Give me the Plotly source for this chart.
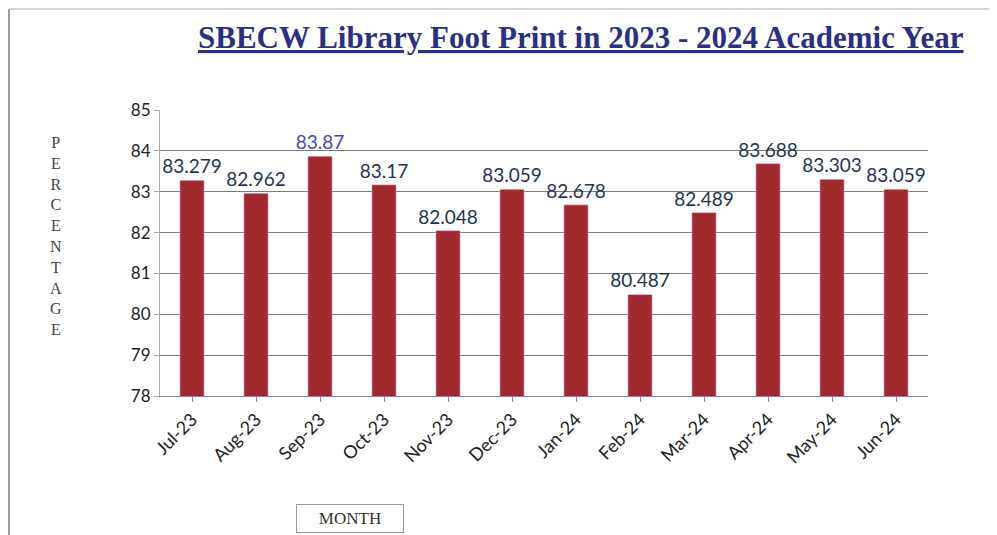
"""SBECW library footprint, 2023-2024 academic year."""

import plotly.graph_objects as go

MONTHS = ["Jul-23", "Aug-23", "Sep-23", "Oct-23", "Nov-23", "Dec-23",
          "Jan-24", "Feb-24", "Mar-24", "Apr-24", "May-24", "Jun-24"]
PERCENT = [83.279, 82.962, 83.87, 83.17, 82.048, 83.059,
           82.678, 80.487, 82.489, 83.688, 83.303, 83.059]
LABELS = ["83.279", "82.962", "83.87", "83.17", "82.048", "83.059",
          "82.678", "80.487", "82.489", "83.688", "83.303", "83.059"]
Y_TICKS = [78, 79, 80, 81, 82, 83, 84, 85]

BAR_COLOR = "#a02a2e"
LABEL_COLOR = "#1f3550"
TITLE_COLOR = "#2b2f85"

label_colors = [("#4b45c4" if m == "Sep-23" else LABEL_COLOR) for m in MONTHS]

fig = go.Figure(go.Bar(
    x=MONTHS, y=PERCENT, text=LABELS, textposition="outside",
    constraintext="none",
    textfont=dict(family="Lato, Open Sans, sans-serif", size=19, color=label_colors),
    marker_color=BAR_COLOR, cliponaxis=False, width=0.38,
))

# page body has an 8px margin, so work in page pixels minus 8
OFF = 8
FW, FH = 997 - OFF, 535 - OFF
# plot area in page pixels: x 160..928, y 110..396
L, R, T, B = 160 - OFF, 928 - OFF, 110 - OFF, 396 - OFF
W, H = R - L, B - T


def px(x):
    return (x - OFF - L) / W


def py(y):
    return 1 - (y - OFF - T) / H


fig.update_layout(
    width=FW, height=FH,
    margin=dict(l=L, r=FW - R, t=T, b=FH - B),
    paper_bgcolor="white", plot_bgcolor="white",
    showlegend=False,
    font=dict(family="Lato, Open Sans, sans-serif", size=17, color="#222"),
    xaxis=dict(
        type="category", tickangle=-45, showgrid=False,
        showline=True, linecolor="#888", linewidth=1,
        ticks="outside", ticklen=5, tickcolor="#888",
        tickfont=dict(size=18, color="#222"),
    ),
    yaxis=dict(
        range=[78, 85], tickvals=Y_TICKS, showgrid=True,
        gridcolor="#7a7a7a", gridwidth=1,
        showline=True, linecolor="#aaa", linewidth=1,
        ticks="outside", ticklen=5, tickcolor="#aaa",
        tickfont=dict(size=17, color="#222"), zeroline=False,
    ),
)

# title
fig.add_annotation(
    text="<b><u>SBECW Library Foot Print in 2023 - 2024 Academic Year</u></b>",
    xref="paper", yref="paper", x=px(581), y=py(37),
    xanchor="center", yanchor="middle", showarrow=False,
    font=dict(family="Liberation Serif, Times New Roman, serif", size=31, color=TITLE_COLOR),
)

# stacked vertical axis title
fig.add_annotation(
    text="<br>".join("PERCENTAGE"),
    xref="paper", yref="paper", x=px(56), y=py(236),
    xanchor="center", yanchor="middle", showarrow=False, align="center",
    font=dict(family="Liberation Serif, Times New Roman, serif", size=16, color="#444"),
)

# month box
fig.add_annotation(
    text="MONTH",
    xref="paper", yref="paper", x=px(350), y=py(518),
    xanchor="center", yanchor="middle", showarrow=False,
    bordercolor="#999", borderwidth=1, borderpad=4, width=98,
    font=dict(family="Liberation Serif, Times New Roman, serif", size=17, color="#333"),
)

# scanned page frame (left and top edges)
fig.add_shape(type="line", xref="paper", yref="paper",
              x0=px(9), x1=px(9), y0=py(535), y1=py(9),
              line=dict(color="#999", width=2))
fig.add_shape(type="line", xref="paper", yref="paper",
              x0=px(9), x1=px(997), y0=py(9), y1=py(9),
              line=dict(color="#aaa", width=1))

fig.write_html("out.html")
